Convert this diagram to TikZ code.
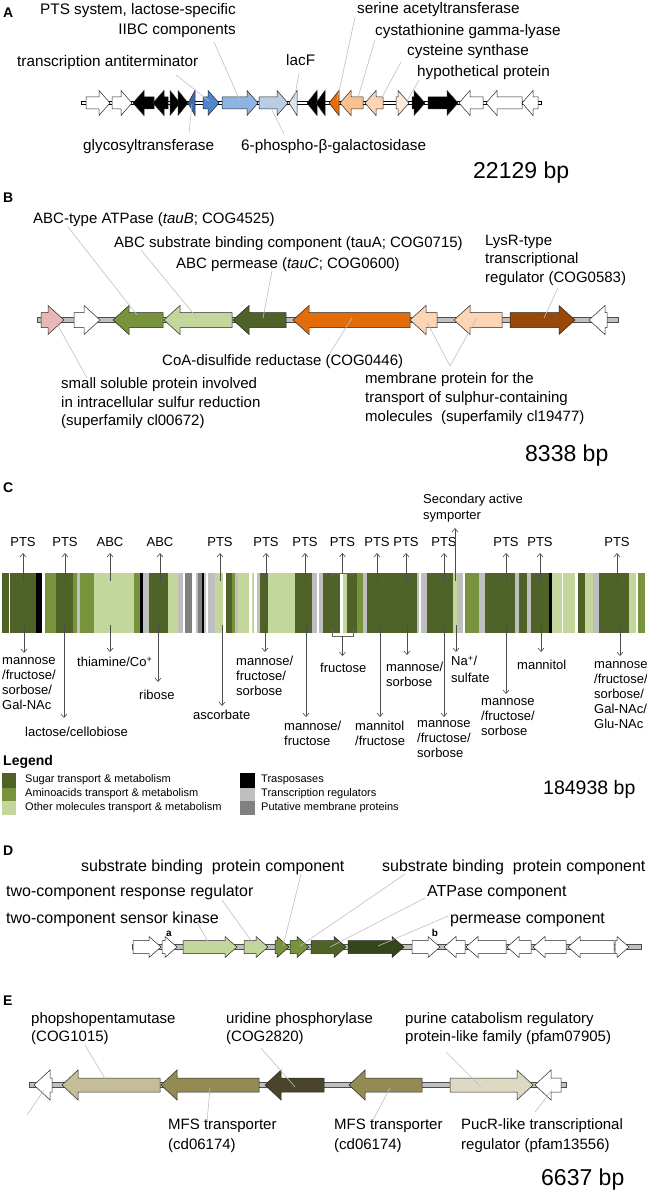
\documentclass[tikz,border=0pt]{standalone}
\usepackage{fontspec}
\setmainfont{Liberation Sans}
\usetikzlibrary{arrows.meta}
\definecolor{sugar}{HTML}{4F6228}
\definecolor{amino}{HTML}{77933C}
\definecolor{other}{HTML}{C3D69B}
\definecolor{treg}{HTML}{BFBFBF}
\definecolor{memb}{HTML}{808080}
\definecolor{callgray}{HTML}{C0C0C0}
\definecolor{bbgray}{HTML}{C0C0C0}
\definecolor{blueA}{HTML}{3E6BAA}
\definecolor{blueB}{HTML}{4F86CF}
\definecolor{blueC}{HTML}{8EB4E3}
\definecolor{blueD}{HTML}{B9CDE5}
\definecolor{blueE}{HTML}{DCE6F2}
\definecolor{orangeA}{HTML}{E46C0A}
\definecolor{peachA}{HTML}{FAC090}
\definecolor{peachB}{HTML}{FCD5B5}
\definecolor{peachC}{HTML}{FDEADA}
\definecolor{pinkB}{HTML}{E6B9B8}
\definecolor{brownB}{HTML}{984807}
\definecolor{ddgreen}{HTML}{35461B}
\definecolor{tanE}{HTML}{C4BD97}
\definecolor{oliveE}{HTML}{948A54}
\definecolor{darkE}{HTML}{4A452A}
\definecolor{lightE}{HTML}{DDD9C3}
\tikzset{
  gene/.style={draw=black!85,line width=0.5},
  call/.style={draw=callgray,line width=0.6},
  carr/.style={draw=black!70,line width=0.6,-{Straight Barb[length=3.5pt,width=6pt]}},
  bline/.style={draw=black!60,line width=0.6},
  letter/.style={anchor=base west,inner sep=0,font=\fontsize{14}{16}\selectfont\bfseries},
  bp/.style={anchor=base west,inner sep=0,font=\fontsize{23}{26}\selectfont},
  la/.style={anchor=north west,inner sep=0,align=left,execute at begin node={\strut},font=\fontsize{15.3}{20}\selectfont},
  lb/.style={anchor=north west,inner sep=0,align=left,execute at begin node={\strut},font=\fontsize{15}{18.5}\selectfont},
  lc/.style={anchor=north west,inner sep=0,align=left,execute at begin node={\strut},font=\fontsize{13}{15}\selectfont},
  pts/.style={anchor=base,inner sep=0,font=\fontsize{13}{15}\selectfont},
  leg/.style={anchor=west,inner sep=0,font=\fontsize{11}{13}\selectfont},
  ld/.style={anchor=base west,inner sep=0,font=\fontsize{16}{19}\selectfont},
  le/.style={anchor=north west,inner sep=0,align=left,execute at begin node={\strut},font=\fontsize{15}{18}\selectfont},
}
\newcommand\geneR[3]{%
  \pgfmathsetmacro\hl{min(\Gl,#2-#1)}%
  \filldraw[gene,fill=#3] (#1,\Gy-\Gb) -- ({#2-\hl},\Gy-\Gb) -- ({#2-\hl},\Gy-\Gh) -- (#2,\Gy) -- ({#2-\hl},\Gy+\Gh) -- ({#2-\hl},\Gy+\Gb) -- (#1,\Gy+\Gb) -- cycle;}
\newcommand\geneL[3]{%
  \pgfmathsetmacro\hl{min(\Gl,#2-#1)}%
  \filldraw[gene,fill=#3] (#2,\Gy-\Gb) -- ({#1+\hl},\Gy-\Gb) -- ({#1+\hl},\Gy-\Gh) -- (#1,\Gy) -- ({#1+\hl},\Gy+\Gh) -- ({#1+\hl},\Gy+\Gb) -- (#2,\Gy+\Gb) -- cycle;}
\begin{document}
\begin{tikzpicture}[x=1pt,y=-1pt]
\useasboundingbox (0,0) rectangle (647,1190);
\fill[white] (0,0) rectangle (647,1190);
% ================= Panel A
\node[letter] (lA) at (3,18) {A};
\def\Gy{103}\def\Gb{6}\def\Gh{12.5}\def\Gl{11}
\draw[fill=white,line width=0.5] (81,101.3) rectangle (541,104.7);
\geneR{86}{110}{white}
\geneR{112}{132}{white}
\geneL{133}{154}{black}
\geneL{153}{168}{black}
\geneR{170}{180}{black}
\geneR{178}{188}{black}
\geneL{188}{195}{blueA}
\geneR{203}{219}{blueB}
\geneR{222}{258}{blueC}
\geneR{259}{288}{blueD}
\geneL{289}{297}{blueE}
\geneL{307}{317}{black}
\geneL{316}{325}{black}
\geneL{329}{339}{orangeA}
\geneL{340}{363}{peachA}
\geneL{365}{383}{peachB}
\geneR{396}{409}{peachC}
\geneR{412}{425}{black}
\geneR{428}{458}{black}
\geneL{459}{483}{white}
\geneL{486}{522}{white}
\geneL{522}{538}{white}
\node[la,anchor=north east,align=right] (a1) at (236,3.5) {PTS system, lactose-specific\\IIBC components};
\node[la] (a2) at (17,52.5) {transcription antiterminator};
\node[la] (a3) at (286,51.5) {lacF};
\node[la] (a4) at (357,-0.5) {serine acetyltransferase};
\node[la] (a5) at (375,21.5) {cystathionine gamma-lyase};
\node[la] (a6) at (407,41.5) {cysteine synthase};
\node[la] (a7) at (417,62.5) {hypothetical protein};
\node[la] (a8) at (83,136.5) {glycosyltransferase};
\node[la] (a9) at (241,136.5) {6-phospho-β-galactosidase};
\node[bp] (abp) at (473,178.3) {22129 bp};
\draw[call] (176,75) -- (209,101);
\draw[call] (214,42) -- (240,101);
\draw[call] (299,73) -- (294,101);
\draw[call] (355,17) -- (337,101);
\draw[call] (375,40) -- (357,101);
\draw[call] (401,62) -- (380,101);
\draw[call] (419,80) -- (407,101);
\draw[call] (189,133) -- (192,104);
\draw[call] (284,134) -- (269,104);
% ================= Panel B
\node[letter] (lB) at (3,203) {B};
\def\Gy{320}\def\Gb{7.5}\def\Gh{14.5}\def\Gl{16}
\draw[fill=bbgray,line width=0.5,draw=black!70] (37,317.5) rectangle (618,322.5);
\geneR{41}{64}{pinkB}
\geneR{74}{100}{white}
\geneL{113}{163}{amino}
\geneL{164}{232}{other}
\geneL{233}{286}{sugar}
\geneL{293}{410}{orangeA}
\geneL{410}{437}{peachB}
\geneL{454}{502}{peachB}
\geneR{510}{575}{brownB}
\geneL{589}{607}{white}
\node[lb] (b1) at (33,210.5) {ABC-type ATPase (\textit{tauB}; COG4525)};
\node[lb] (b2) at (114,234.5) {ABC substrate binding component (tauA; COG0715)};
\node[lb] (b3) at (485,234.5) {LysR-type\\transcriptional\\regulator (COG0583)};
\node[lb] (b4) at (176,255.5) {ABC permease (\textit{tauC}; COG0600)};
\node[lb] (b5) at (162,352.5) {CoA-disulfide reductase (COG0446)};
\node[lb] (b6) at (61,377.5) {small soluble protein involved\\in intracellular sulfur reduction\\(superfamily cl00672)};
\node[lb,font=\fontsize{15}{19}\selectfont] (b7) at (365,372.5) {membrane protein for the\\transport of sulphur-containing\\molecules\ \ (superfamily cl19477)};
\node[bp] (bbp) at (525,461.3) {8338 bp};
\draw[call] (68,227) -- (137,315);
\draw[call] (141,250) -- (197,318);
\draw[call] (272,271) -- (263,318);
\draw[call] (558,288) -- (544,318);
\draw[call] (330,353) -- (352,318);
\draw[call] (87,378) -- (56,322);
\coordinate (mv) at (450,366);
\draw[call] (mv) -- (427,322);
\draw[call] (mv) -- (477,318);
% ================= Panel C
\node[letter] (lC) at (3,492) {C};
\foreach \a/\b/\c in {2/8.5/sugar,10/36/sugar,36/42/black,45/56/amino,56/73/sugar,73/77/amino,77/80/treg,80/94/amino,94/134/other,134/140/amino,140/143/black,143/149/treg,149/168/sugar,168/178/other,178/183/treg,185/192/memb,196/198/treg,198/202/memb,202/204/black,204/206/treg,208/215/treg,215/223/other,226/232/sugar,232/235/amino,235/238/treg,238/249/other,252/254/other,257/260/treg,260/268/sugar,268/295/other,295/312/sugar,312/317/treg,319/323/treg,323/340/sugar,343/347/other,347/357/sugar,357/363/amino,363/367/treg,367/417/sugar,417/419/treg,421/427/treg,427/453/sugar,453/457/other,457/463/treg,465/479/amino,479/485/treg,485/515/sugar,515/519/treg,519/527/sugar,527/531/treg,531/549/sugar,549/552/black,552/562/other,563/575/other,578/585/sugar,585/593/other,593/599/treg,599/629/sugar,629/636/other,638/645/amino}
  \fill[\c] (\a,573) rectangle (\b,633);
\foreach \x/\t in {23/PTS,65/PTS,110/ABC,160/ABC,220/PTS,266/PTS,305/PTS,342.5/PTS,377/PTS,406/PTS,444/PTS,506/PTS,540/PTS,617/PTS}
  \node[pts] at (\x,546.7) {\t};
\foreach \x in {23,65,110,160,220,266,305,377,406,444,506,540,617}
  \draw[carr] (\x,581) -- (\x,553);
\draw[bline] (332,577) -- (332,573) -- (353,573) -- (353,577);
\draw[carr] (342.5,573) -- (342.5,553);
\draw[carr] (455,581) -- (455,528);
\node[lc,font=\fontsize{13}{16}\selectfont] (csym) at (423,493.5) {Secondary active\\symporter};
\foreach \x/\e in {24/653,64/718,110/652,158/682,222/706,265/652,306/717,380/717,407/655,444/717,456/652,506/694,541/652,620/656}
  \draw[carr] (\x,625) -- (\x,\e);
\draw[bline] (332,629) -- (332,636) -- (353,636) -- (353,629);
\draw[carr] (342.5,636) -- (342.5,656);
\node[lc] (c1) at (2,657) {mannose\\/fructose/\\sorbose/\\Gal-NAc};
\node[lc] (c2) at (25,726) {lactose/cellobiose};
\node[lc] (c3) at (77,656) {thiamine/Co\textsuperscript{+}};
\node[lc] (c4) at (139,689) {ribose};
\node[lc] (c5) at (193,709) {ascorbate};
\node[lc] (c6) at (236,656) {mannose/\\fructose/\\sorbose};
\node[lc] (c7) at (284,721) {mannose/\\fructose};
\node[lc] (c8) at (320,662) {fructose};
\node[lc] (c9) at (355,721) {mannitol\\/fructose};
\node[lc] (c10) at (386,662) {mannose/\\sorbose};
\node[lc] (c11) at (417,720) {mannose\\/fructose/\\sorbose};
\node[lc,font=\fontsize{13}{17}\selectfont] (c12) at (451,656) {Na\textsuperscript{+}/\\sulfate};
\node[lc] (c13) at (481,698) {mannose\\/fructose/\\sorbose};
\node[lc] (c14) at (517,659) {mannitol};
\node[lc] (c15) at (594,661) {mannose\\/fructose/\\sorbose/\\Gal-NAc/\\Glu-NAc};
% legend
\node[anchor=base west,inner sep=0,font=\fontsize{14}{16}\selectfont\bfseries] (leg) at (3,765) {Legend};
\fill[sugar] (2,773) rectangle (16,788);
\fill[amino] (2,788) rectangle (16,801);
\fill[other] (2,801) rectangle (16,815);
\fill[black] (240,773) rectangle (255,788);
\fill[treg] (240,788) rectangle (255,801);
\fill[memb] (240,801) rectangle (255,815);
\node[leg] at (25,780) {Sugar transport \& metabolism};
\node[leg] at (25,794) {Aminoacids transport \& metabolism};
\node[leg] at (25,807.5) {Other molecules transport \& metabolism};
\node[leg] at (261,780) {Trasposases};
\node[leg] at (261,794) {Transcription regulators};
\node[leg] at (261,807.5) {Putative membrane proteins};
\node[anchor=base west,inner sep=0,font=\fontsize{19.5}{22}\selectfont] (cbp) at (543,794) {184938 bp};
% ================= Panel D
\node[letter] (lD) at (3,855) {D};
\def\Gy{947}\def\Gb{6.5}\def\Gh{10.5}\def\Gl{12}
\draw[fill=bbgray,line width=0.5,draw=black!70] (132,944.5) rectangle (641,949.5);
\geneR{133}{161}{white}
\geneR{162}{177}{white}
\geneR{183}{237}{other}
\geneR{244}{268}{other}
\geneR{275}{289}{amino}
\geneR{290}{309}{amino}
\geneR{311}{346}{sugar}
\geneR{348}{404}{ddgreen}
\geneR{412}{440}{white}
\geneL{444}{465}{white}
\geneL{466}{506}{white}
\geneL{507}{531}{white}
\geneL{533}{566}{white}
\geneL{568}{614}{white}
\geneR{615}{629}{white}
\node[ld] (d1) at (81,871) {substrate binding\ \ protein component};
\node[ld] (d2) at (382,871) {substrate binding\ \ protein component};
\node[ld] (d3) at (6,896) {two-component response regulator};
\node[ld] (d4) at (427,896) {ATPase component};
\node[ld] (d5) at (6,923) {two-component sensor kinase};
\node[ld] (d6) at (450,923) {permease component};
\node[anchor=base,inner sep=0,font=\fontsize{10}{12}\selectfont\bfseries] (da) at (169,936.5) {a};
\node[anchor=base,inner sep=0,font=\fontsize{10}{12}\selectfont\bfseries] (db) at (435,936.5) {b};
\draw[call] (197,922) -- (211,947);
\draw[call] (222,900) -- (255,946);
\draw[call] (301,874) -- (283,946);
\draw[call] (405,874) -- (300,946);
\draw[call] (425,898) -- (330,947);
\draw[call] (448,916) -- (378,946);
% ================= Panel E
\node[letter] (lE) at (3,1005) {E};
\def\Gy{1085}\def\Gb{7}\def\Gh{15}\def\Gl{16}
\draw[fill=bbgray,line width=0.5,draw=black!70] (29,1082.5) rectangle (566,1087.5);
\geneL{34}{52}{white}
\geneL{62}{160}{tanE}
\geneL{161}{259}{oliveE}
\geneL{265}{324}{darkE}
\geneL{349}{422}{oliveE}
\geneR{450}{533}{lightE}
\geneL{535}{561}{white}
\node[le] (e1) at (31,1012.8) {phopshopentamutase\\(COG1015)};
\node[le] (e2) at (226,1012.8) {uridine phosphorylase\\(COG2820)};
\node[le] (e3) at (405,1012.8) {purine catabolism regulatory\\protein-like family (pfam07905)};
\node[le,font=\fontsize{15}{20}\selectfont] (e4) at (168,1118.4) {MFS transporter\\(cd06174)};
\node[le,font=\fontsize{15}{20}\selectfont] (e5) at (334,1118.4) {MFS transporter\\(cd06174)};
\node[le,font=\fontsize{15}{20}\selectfont] (e6) at (461,1118.4) {PucR-like transcriptional\\regulator (pfam13556)};
\node[bp] (ebp) at (541,1185.3) {6637 bp};
\draw[call] (85,1045) -- (110,1087);
\draw[call] (261,1048) -- (295,1087);
\draw[call] (446,1052) -- (481,1087);
\draw[call] (207,1122) -- (210,1088);
\draw[call] (373,1120) -- (390,1088);
\draw[call] (535,1112) -- (552,1090);
\draw[call] (44,1090) -- (27,1115);
\end{tikzpicture}
\end{document}
